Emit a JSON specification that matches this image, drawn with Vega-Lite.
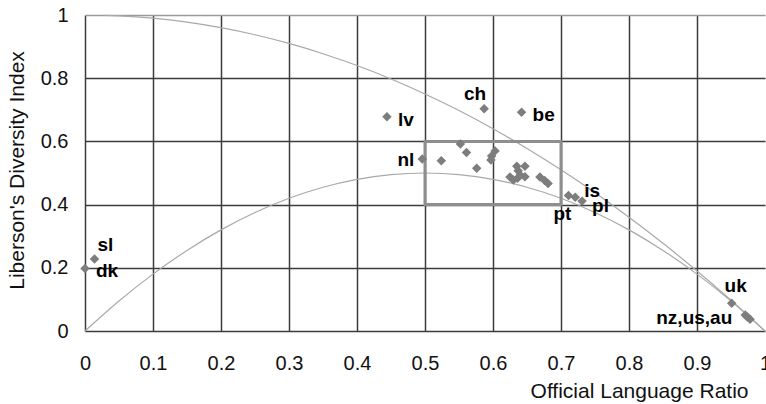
{
  "$schema": "https://vega.github.io/schema/vega-lite/v6.json",
  "width": 680,
  "height": 316,
  "autosize": {"type": "none"},
  "padding": {"left": 85, "top": 15, "right": 1, "bottom": 73},
  "background": "white",
  "config": {
    "view": {"stroke": null},
    "font": "Liberation Sans",
    "axis": {"labelFont": "Liberation Sans", "titleFont": "Liberation Sans", "labelColor": "#111", "titleColor": "#111", "titleFontWeight": "normal"}
  },
  "datasets": {
    "points": [
      {"x": 0.0, "y": 0.198, "label": "dk"},
      {"x": 0.014, "y": 0.228, "label": "sl"},
      {"x": 0.444, "y": 0.678, "label": "lv"},
      {"x": 0.587, "y": 0.703, "label": "ch"},
      {"x": 0.642, "y": 0.692, "label": "be"},
      {"x": 0.496, "y": 0.544, "label": "nl"},
      {"x": 0.524, "y": 0.539, "label": ""},
      {"x": 0.552, "y": 0.592, "label": ""},
      {"x": 0.561, "y": 0.565, "label": ""},
      {"x": 0.576, "y": 0.515, "label": ""},
      {"x": 0.603, "y": 0.570, "label": ""},
      {"x": 0.598, "y": 0.554, "label": ""},
      {"x": 0.597, "y": 0.541, "label": ""},
      {"x": 0.635, "y": 0.521, "label": ""},
      {"x": 0.647, "y": 0.521, "label": ""},
      {"x": 0.637, "y": 0.507, "label": ""},
      {"x": 0.647, "y": 0.488, "label": ""},
      {"x": 0.625, "y": 0.487, "label": ""},
      {"x": 0.630, "y": 0.478, "label": ""},
      {"x": 0.640, "y": 0.494, "label": ""},
      {"x": 0.636, "y": 0.483, "label": ""},
      {"x": 0.669, "y": 0.487, "label": ""},
      {"x": 0.676, "y": 0.476, "label": ""},
      {"x": 0.681, "y": 0.467, "label": ""},
      {"x": 0.711, "y": 0.429, "label": "pt"},
      {"x": 0.721, "y": 0.423, "label": "is"},
      {"x": 0.731, "y": 0.411, "label": "pl"},
      {"x": 0.951, "y": 0.088, "label": "uk"},
      {"x": 0.971, "y": 0.051, "label": "nz,us,au"},
      {"x": 0.974, "y": 0.044, "label": ""},
      {"x": 0.978, "y": 0.037, "label": ""}
    ],
    "curves": [
      {"x": 0.03, "y": 0.9991, "curve": "upper"},
      {"x": 0.05, "y": 0.9975, "curve": "upper"},
      {"x": 0.1, "y": 0.99, "curve": "upper"},
      {"x": 0.15, "y": 0.9775, "curve": "upper"},
      {"x": 0.2, "y": 0.96, "curve": "upper"},
      {"x": 0.25, "y": 0.9375, "curve": "upper"},
      {"x": 0.3, "y": 0.91, "curve": "upper"},
      {"x": 0.35, "y": 0.8775, "curve": "upper"},
      {"x": 0.4, "y": 0.84, "curve": "upper"},
      {"x": 0.45, "y": 0.7975, "curve": "upper"},
      {"x": 0.5, "y": 0.75, "curve": "upper"},
      {"x": 0.55, "y": 0.6975, "curve": "upper"},
      {"x": 0.6, "y": 0.64, "curve": "upper"},
      {"x": 0.65, "y": 0.5775, "curve": "upper"},
      {"x": 0.7, "y": 0.51, "curve": "upper"},
      {"x": 0.75, "y": 0.4375, "curve": "upper"},
      {"x": 0.8, "y": 0.36, "curve": "upper"},
      {"x": 0.85, "y": 0.2775, "curve": "upper"},
      {"x": 0.9, "y": 0.19, "curve": "upper"},
      {"x": 0.95, "y": 0.0975, "curve": "upper"},
      {"x": 1.0, "y": 0.0, "curve": "upper"},
      {"x": 0.0, "y": 0.0, "curve": "lower"},
      {"x": 0.05, "y": 0.095, "curve": "lower"},
      {"x": 0.1, "y": 0.18, "curve": "lower"},
      {"x": 0.15, "y": 0.255, "curve": "lower"},
      {"x": 0.2, "y": 0.32, "curve": "lower"},
      {"x": 0.25, "y": 0.375, "curve": "lower"},
      {"x": 0.3, "y": 0.42, "curve": "lower"},
      {"x": 0.35, "y": 0.455, "curve": "lower"},
      {"x": 0.4, "y": 0.48, "curve": "lower"},
      {"x": 0.45, "y": 0.495, "curve": "lower"},
      {"x": 0.5, "y": 0.5, "curve": "lower"},
      {"x": 0.55, "y": 0.495, "curve": "lower"},
      {"x": 0.6, "y": 0.48, "curve": "lower"},
      {"x": 0.65, "y": 0.455, "curve": "lower"},
      {"x": 0.7, "y": 0.42, "curve": "lower"},
      {"x": 0.75, "y": 0.375, "curve": "lower"},
      {"x": 0.8, "y": 0.32, "curve": "lower"},
      {"x": 0.85, "y": 0.255, "curve": "lower"},
      {"x": 0.9, "y": 0.18, "curve": "lower"},
      {"x": 0.95, "y": 0.095, "curve": "lower"},
      {"x": 1.0, "y": 0.0, "curve": "lower"}
    ],
    "box": [{"x0": 0.5, "x1": 0.7, "y0": 0.4, "y1": 0.6}]
  },
  "layer": [
    {
      "data": {"name": "curves"},
      "mark": {"type": "line", "color": "#a9a9a9", "strokeWidth": 1.2, "interpolate": "monotone"},
      "encoding": {
        "x": {"field": "x", "type": "quantitative",
          "scale": {"domain": [0, 1], "nice": false},
          "axis": {
            "values": [0, 0.1, 0.2, 0.3, 0.4, 0.5, 0.6, 0.7, 0.8, 0.9, 1],
            "format": ".1~f", "ticks": false, "domain": false,
            "grid": true,
            "gridColor": {"condition": {"test": "datum.value == 1", "value": "transparent"}, "value": "#3c3c3c"},
            "gridWidth": 1.5,
            "labelFontSize": 20, "labelPadding": 22, "labelFlush": false, "labelOverlap": false,
            "title": "Official Language Ratio", "titleFontSize": 21,
            "titleAnchor": null, "titleAlign": "right", "titleBaseline": "alphabetic",
            "titleX": 663, "titleY": 66
          }
        },
        "y": {"field": "y", "type": "quantitative",
          "scale": {"domain": [0, 1], "nice": false},
          "axis": {
            "values": [0, 0.2, 0.4, 0.6, 0.8, 1],
            "format": ".1~f", "ticks": false, "domain": false,
            "grid": true,
            "gridColor": {"condition": {"test": "datum.value == 1", "value": "#9a9a9a"}, "value": "#3c3c3c"},
            "gridWidth": 1.5,
            "labelFontSize": 20, "labelPadding": 17, "labelOverlap": false, "labelFlush": false,
            "title": "Liberson's Diversity Index", "titleFontSize": 21,
            "titleAngle": -90, "titleAlign": "center", "titleBaseline": "alphabetic",
            "titleX": -62, "titleY": 155
          }
        },
        "detail": {"field": "curve"}
      }
    },
    {
      "data": {"name": "box"},
      "mark": {"type": "rect", "fill": null, "fillOpacity": 0, "stroke": "#8e8e8e", "strokeWidth": 3},
      "encoding": {
        "x": {"field": "x0", "type": "quantitative"},
        "x2": {"field": "x1"},
        "y": {"field": "y0", "type": "quantitative"},
        "y2": {"field": "y1"}
      }
    },
    {
      "data": {"name": "points"},
      "mark": {"type": "point", "shape": "diamond", "filled": true, "color": "#7d7d7d", "opacity": 1, "size": 90},
      "encoding": {
        "x": {"field": "x", "type": "quantitative"},
        "y": {"field": "y", "type": "quantitative"}
      }
    },
    {
      "data": {"name": "points"},
      "transform": [{"filter": {"field": "label", "oneOf": ["lv", "be", "dk"]}}],
      "mark": {"type": "text", "align": "left", "baseline": "middle", "dx": 11, "dy": 3, "fontSize": 19, "fontWeight": "bold", "color": "#000"},
      "encoding": {"x": {"field": "x", "type": "quantitative"}, "y": {"field": "y", "type": "quantitative"}, "text": {"field": "label"}}
    },
    {
      "data": {"name": "points"},
      "transform": [{"filter": {"field": "label", "equal": "sl"}}],
      "mark": {"type": "text", "align": "left", "baseline": "middle", "dx": 3, "dy": -14, "fontSize": 19, "fontWeight": "bold", "color": "#000"},
      "encoding": {"x": {"field": "x", "type": "quantitative"}, "y": {"field": "y", "type": "quantitative"}, "text": {"field": "label"}}
    },
    {
      "data": {"name": "points"},
      "transform": [{"filter": {"field": "label", "equal": "ch"}}],
      "mark": {"type": "text", "align": "right", "baseline": "middle", "dx": 2, "dy": -15, "fontSize": 19, "fontWeight": "bold", "color": "#000"},
      "encoding": {"x": {"field": "x", "type": "quantitative"}, "y": {"field": "y", "type": "quantitative"}, "text": {"field": "label"}}
    },
    {
      "data": {"name": "points"},
      "transform": [{"filter": {"field": "label", "equal": "nl"}}],
      "mark": {"type": "text", "align": "right", "baseline": "middle", "dx": -8, "dy": 1, "fontSize": 19, "fontWeight": "bold", "color": "#000"},
      "encoding": {"x": {"field": "x", "type": "quantitative"}, "y": {"field": "y", "type": "quantitative"}, "text": {"field": "label"}}
    },
    {
      "data": {"name": "points"},
      "transform": [{"filter": {"field": "label", "equal": "is"}}],
      "mark": {"type": "text", "align": "left", "baseline": "middle", "dx": 9, "dy": -6, "fontSize": 19, "fontWeight": "bold", "color": "#000"},
      "encoding": {"x": {"field": "x", "type": "quantitative"}, "y": {"field": "y", "type": "quantitative"}, "text": {"field": "label"}}
    },
    {
      "data": {"name": "points"},
      "transform": [{"filter": {"field": "label", "equal": "pl"}}],
      "mark": {"type": "text", "align": "left", "baseline": "middle", "dx": 10, "dy": 5, "fontSize": 19, "fontWeight": "bold", "color": "#000"},
      "encoding": {"x": {"field": "x", "type": "quantitative"}, "y": {"field": "y", "type": "quantitative"}, "text": {"field": "label"}}
    },
    {
      "data": {"name": "points"},
      "transform": [{"filter": {"field": "label", "equal": "pt"}}],
      "mark": {"type": "text", "align": "center", "baseline": "middle", "dx": -6, "dy": 19, "fontSize": 19, "fontWeight": "bold", "color": "#000"},
      "encoding": {"x": {"field": "x", "type": "quantitative"}, "y": {"field": "y", "type": "quantitative"}, "text": {"field": "label"}}
    },
    {
      "data": {"name": "points"},
      "transform": [{"filter": {"field": "label", "equal": "uk"}}],
      "mark": {"type": "text", "align": "center", "baseline": "middle", "dx": 4, "dy": -17, "fontSize": 19, "fontWeight": "bold", "color": "#000"},
      "encoding": {"x": {"field": "x", "type": "quantitative"}, "y": {"field": "y", "type": "quantitative"}, "text": {"field": "label"}}
    },
    {
      "data": {"name": "points"},
      "transform": [{"filter": {"field": "label", "equal": "nz,us,au"}}],
      "mark": {"type": "text", "align": "right", "baseline": "middle", "dx": -13, "dy": 3, "fontSize": 19, "fontWeight": "bold", "color": "#000"},
      "encoding": {"x": {"field": "x", "type": "quantitative"}, "y": {"field": "y", "type": "quantitative"}, "text": {"field": "label"}}
    }
  ]
}
